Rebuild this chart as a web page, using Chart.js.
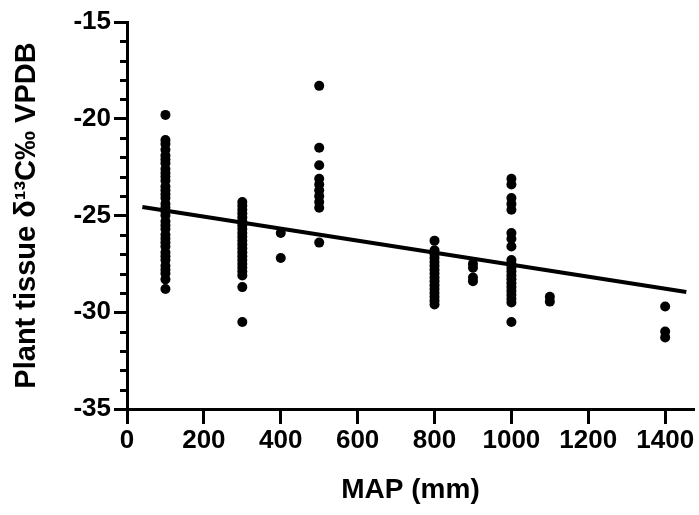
<!DOCTYPE html>
<html>
<head>
<meta charset="utf-8">
<script src="https://cdn.jsdelivr.net/npm/chart.js@4/dist/chart.umd.min.js"></script>
<style>
html,body{margin:0;padding:0;background:#fff;}
#wrap{width:699px;height:515px;position:relative;}
</style>
</head>
<body>
<div id="wrap"><canvas id="c" width="699" height="515"></canvas></div>
<script>
// MAP categories (mm) and plant tissue δ13C values
const map100 = [-19.8,-21.1,-21.3,-21.6,-21.9,-22.1,-22.3,-22.6,-22.8,-23.0,-23.2,-23.5,-23.7,-23.9,-24.1,-24.4,-24.6,-24.8,-25.0,-25.3,-25.5,-25.7,-26.0,-26.2,-26.4,-26.6,-26.9,-27.1,-27.3,-27.6,-27.8,-28.0,-28.3,-28.8];
const map300 = [-24.3,-24.5,-24.7,-24.9,-25.1,-25.3,-25.5,-25.7,-25.9,-26.1,-26.3,-26.5,-26.7,-26.9,-27.1,-27.3,-27.5,-27.7,-27.9,-28.1,-28.7,-30.5];
const map400 = [-25.9,-27.2];
const map500 = [-18.3,-21.5,-22.4,-23.1,-23.4,-23.7,-24.0,-24.3,-24.6,-26.4];
const map800 = [-26.3,-26.8,-27.0,-27.2,-27.4,-27.6,-27.8,-28.0,-28.2,-28.4,-28.6,-28.8,-29.0,-29.2,-29.4,-29.6];
const map900 = [-27.5,-27.7,-28.2,-28.4];
const map1000 = [-23.1,-23.4,-24.1,-24.4,-24.7,-25.9,-26.2,-26.6,-27.3,-27.5,-27.7,-27.9,-28.1,-28.3,-28.5,-28.7,-28.9,-29.1,-29.3,-29.5,-30.5];
const map1100 = [-29.2,-29.45];
const map1400 = [-29.7,-31.0,-31.3];

const mapCategories = [100,300,400,500,800,900,1000,1100,1400];
const seriesValues = [map100,map300,map400,map500,map800,map900,map1000,map1100,map1400];

// linear fit line endpoints
const fitX = [40, 1455];
const fitY = [-24.56, -28.95];

const xTicks = [0,200,400,600,800,1000,1200,1400];
const yTicks = [-35,-30,-25,-20,-15];

const points = [];
mapCategories.forEach((m,i)=>{ seriesValues[i].forEach(v=>points.push({x:m,y:v})); });
const fitLine = fitX.map((x,i)=>({x:x,y:fitY[i]}));

const FONT = "'Liberation Sans', Arial, sans-serif";

const minorTicks = {
  id:'minorTicks',
  afterDraw(chart){
    const y = chart.scales.y, ctx = chart.ctx;
    const left = chart.chartArea.left;
    ctx.save();
    ctx.strokeStyle = '#000';
    ctx.lineWidth = 3;
    for(let v=-35; v<=-15; v++){
      if(v%5===0) continue;
      const py = Math.round(y.getPixelForValue(v))+0.5;
      ctx.beginPath();
      ctx.moveTo(left-7, py);
      ctx.lineTo(left, py);
      ctx.stroke();
    }
    ctx.restore();
  }
};

new Chart(document.getElementById('c'), {
  type:'scatter',
  data:{
    datasets:[
      {
        data: points,
        backgroundColor:'#000',
        borderColor:'#000',
        pointRadius:5,
        pointHoverRadius:5,
        borderWidth:0
      },
      {
        type:'line',
        data: fitLine,
        borderColor:'#000',
        borderWidth:4,
        pointRadius:0,
        fill:false,
        tension:0
      }
    ]
  },
  options:{
    responsive:false,
    animation:false,
    events:[],
    layout:{padding:{top:22,right:2,left:0,bottom:0}},
    plugins:{legend:{display:false},tooltip:{enabled:false}},
    scales:{
      x:{
        type:'linear',
        min:0,max:1475,
        afterBuildTicks(scale){ scale.ticks = xTicks.map(v=>({value:v})); },
        afterFit(scale){ scale.height = 106; },
        border:{display:true,color:'#000',width:3},
        grid:{display:true,drawOnChartArea:false,drawTicks:true,tickLength:15,tickWidth:3,tickColor:'#000'},
        ticks:{color:'#000',padding:1,maxRotation:0,autoSkip:false,font:{family:FONT,size:26,weight:'bold'},callback:(v)=>String(v)},
        title:{display:true,text:'MAP (mm)',color:'#000',font:{family:FONT,size:28,weight:'bold'},padding:{top:0,bottom:8}}
      },
      y:{
        type:'linear',
        min:-35,max:-15,
        afterBuildTicks(scale){ scale.ticks = yTicks.map(v=>({value:v})); },
        afterFit(scale){ scale.width = 127; },
        border:{display:true,color:'#000',width:3},
        grid:{display:true,drawOnChartArea:false,drawTicks:true,tickLength:13,tickWidth:3,tickColor:'#000'},
        ticks:{color:'#000',padding:3,autoSkip:false,font:{family:FONT,size:26,weight:'bold'},callback:(v)=>String(v)},
        title:{display:true,text:'Plant tissue δ¹³C‰ VPDB',color:'#000',font:{family:FONT,size:29,weight:'bold'},padding:{top:10,bottom:0}}
      }
    }
  },
  plugins:[minorTicks]
});
</script>
</body>
</html>
